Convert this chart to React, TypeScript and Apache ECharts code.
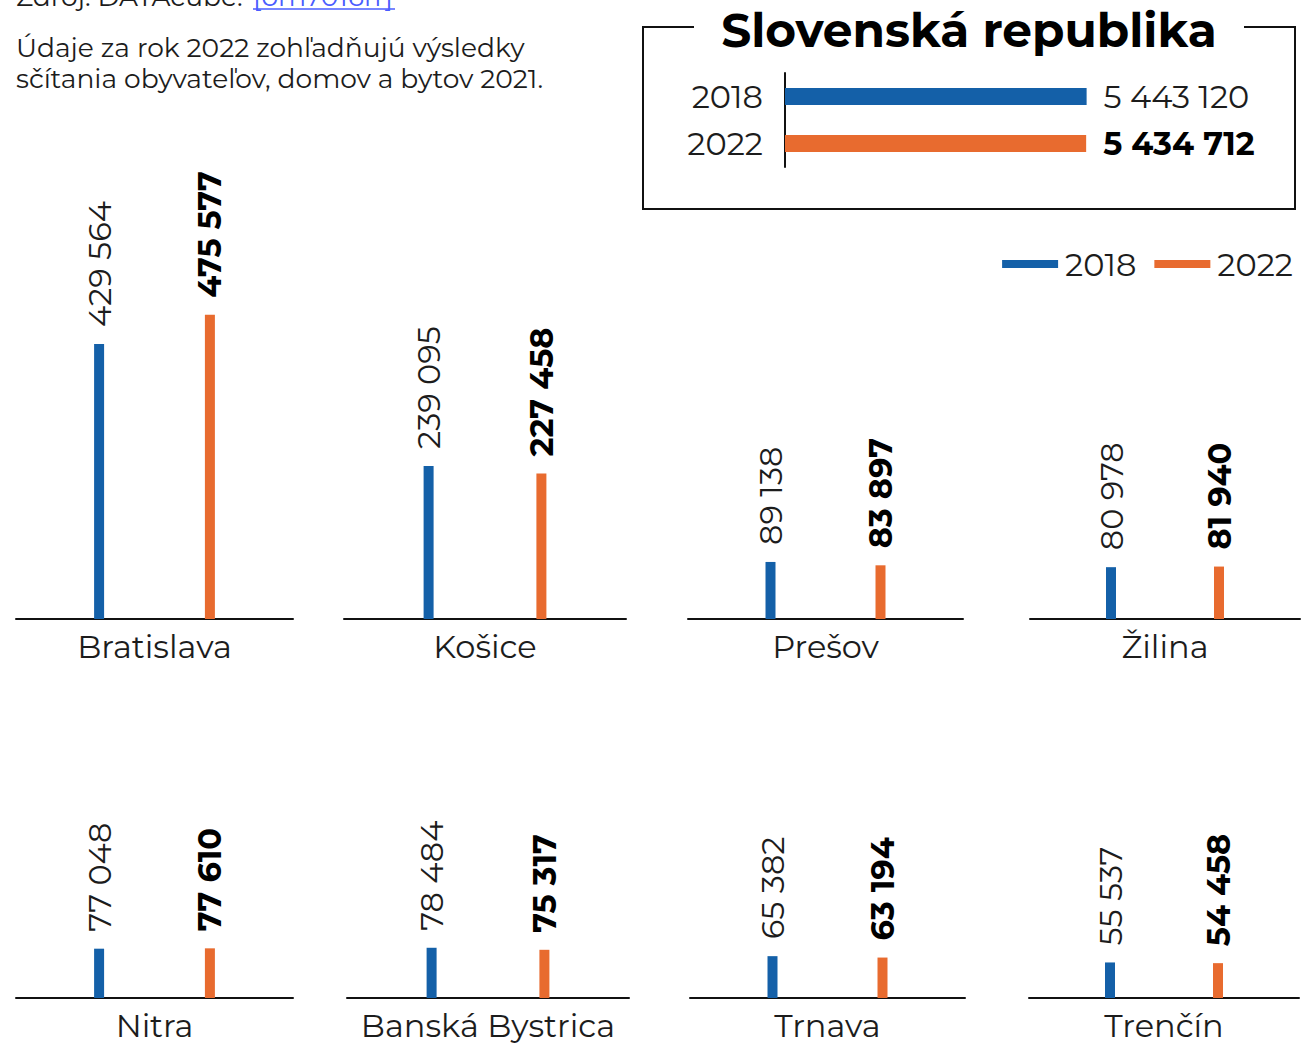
import React, { useEffect, useRef } from "react";
import * as echarts from "echarts";

const regions = ["Bratislava", "Košice", "Prešov", "Žilina", "Nitra", "Banská Bystrica", "Trnava", "Trenčín"];
const values2018 = [429564, 239095, 89138, 80978, 77048, 78484, 65382, 55537];
const values2022 = [475577, 227458, 83897, 81940, 77610, 75317, 63194, 54458];
const years = ["2018", "2022"];
const totalSR = [5443120, 5434712];
const srTitle = "Slovenská republika";
const noteText = "Údaje za rok 2022 zohľadňujú výsledky\nsčítania obyvateľov, domov a bytov 2021.";
const sourceText = "Zdroj: DATAcube.";
const sourceLink = "[om7016rr]";

// layout
const panelLeft = [16, 344, 688, 1030, 16, 347, 690, 1029];
const panelRight = [293, 626, 963, 1300, 293, 629, 965, 1299];
const rowBaseline = [619, 998];
const plotHeight = 320;
const yMax = 500000;

const BLUE = "#1460a8";
const ORANGE = "#e86b2f";
const TXT = "#1c1c1c";
const FONT = "Montserrat, Inter, sans-serif";

const fmt = (v: number) => String(v).replace(/\B(?=(\d{3})+(?!\d))/g, " ");

export default function App() {
  const ref = useRef<HTMLDivElement>(null);
  useEffect(() => {
    if (!ref.current) return;
    const chart = echarts.init(ref.current, null, { renderer: "svg" });
    const grid: any[] = [];
    const xAxis: any[] = [];
    const yAxis: any[] = [];
    const series: any[] = [];
    const cats = ["", years[0], "", years[1], ""];
    regions.forEach((name, i) => {
      const row = i < 4 ? 0 : 1;
      grid.push({
        left: panelLeft[i],
        width: panelRight[i] - panelLeft[i],
        top: rowBaseline[row] - plotHeight,
        height: plotHeight,
      });
      xAxis.push({
        type: "category",
        gridIndex: i,
        data: cats,
        axisLine: { lineStyle: { color: "#111", width: 2 } },
        axisTick: { show: false },
        axisLabel: { show: false },
        name,
        nameLocation: "middle",
        nameGap: 11,
        nameTextStyle: { fontSize: 32, color: TXT, fontFamily: FONT },
      });
      yAxis.push({ type: "value", gridIndex: i, min: 0, max: yMax, show: false });
      const mk = (yi: number, v: number, color: string, bold: boolean) => ({
        name: years[yi],
        type: "bar",
        xAxisIndex: i,
        yAxisIndex: i,
        barWidth: 10,
        barGap: "-100%",
        itemStyle: { color },
        data: cats.map((_, k) => (k === (yi === 0 ? 1 : 3) ? v : "-")),
        label: {
          show: true,
          position: "top",
          rotate: 90,
          align: "left",
          verticalAlign: "middle",
          distance: 17,
          fontSize: 32,
          fontWeight: bold ? "bold" : "normal",
          color: bold ? "#000" : TXT,
          fontFamily: FONT,
          formatter: (p: any) => fmt(p.value),
        },
      });
      series.push(mk(0, values2018[i], BLUE, false));
      series.push(mk(1, values2022[i], ORANGE, true));
    });

    // Slovenská republika summary
    const gi = regions.length;
    grid.push({ left: 785, width: 302, top: 73, height: 94 });
    xAxis.push({ type: "value", gridIndex: gi, min: 0, max: 5450000, show: false });
    yAxis.push({
      type: "category",
      gridIndex: gi,
      data: years,
      inverse: true,
      axisLine: { lineStyle: { color: "#111", width: 2 } },
      axisTick: { show: false },
      axisLabel: { fontSize: 32, color: TXT, margin: 22, fontFamily: FONT },
    });
    series.push({
      name: "SR",
      type: "bar",
      xAxisIndex: gi,
      yAxisIndex: gi,
      barWidth: 17,
      data: totalSR.map((v, k) => ({
        value: v,
        itemStyle: { color: k === 0 ? BLUE : ORANGE },
        label: { fontWeight: k === 0 ? "normal" : "bold", color: k === 0 ? TXT : "#000" },
      })),
      label: {
        show: true,
        position: "right",
        distance: 17,
        fontSize: 32,
        fontFamily: FONT,
        formatter: (p: any) => fmt(p.value),
      },
    });

    chart.setOption({
      animation: false,
      backgroundColor: "#fff",
      grid,
      xAxis,
      yAxis,
      series,
      legend: {
        data: years,
        right: 3,
        top: 243,
        icon: "rect",
        itemWidth: 56,
        itemHeight: 8,
        itemGap: 18,
        selectedMode: false,
        textStyle: { fontSize: 32, color: TXT, fontFamily: FONT, padding: [0, 0, 0, 2] },
      },
      graphic: [
        {
          type: "polyline",
          shape: { points: [[694, 27], [643, 27], [643, 209], [1295, 209], [1295, 27], [1244, 27]] },
          style: { stroke: "#111", lineWidth: 2, fill: "none" },
        },
        {
          type: "text",
          x: 969,
          y: 30,
          style: {
            text: srTitle,
            align: "center",
            verticalAlign: "middle",
            fontSize: 47,
            fontWeight: "bold",
            fill: "#000",
            fontFamily: FONT,
          },
        },
        {
          type: "text",
          x: 16,
          y: 32,
          style: { text: noteText, fontSize: 26.5, lineHeight: 31, fill: TXT, fontFamily: FONT },
        },
        {
          type: "text",
          x: 16,
          y: 10,
          style: { text: sourceText, fontSize: 26.5, fill: TXT, fontFamily: FONT, verticalAlign: "bottom" },
        },
        {
          type: "text",
          x: 253,
          y: 10,
          style: { text: sourceLink, fontSize: 26.5, fill: "#4a5cff", fontFamily: FONT, verticalAlign: "bottom" },
        },
        {
          type: "line",
          shape: { x1: 253, y1: 9, x2: 395, y2: 9 },
          style: { stroke: "#4a5cff", lineWidth: 1.5 },
        },
      ],
    });
    return () => chart.dispose();
  }, []);
  return (
    <div
      ref={ref}
      style={{ position: "absolute", left: 0, top: 0, width: 1301, height: 1045, background: "#fff" }}
    />
  );
}
